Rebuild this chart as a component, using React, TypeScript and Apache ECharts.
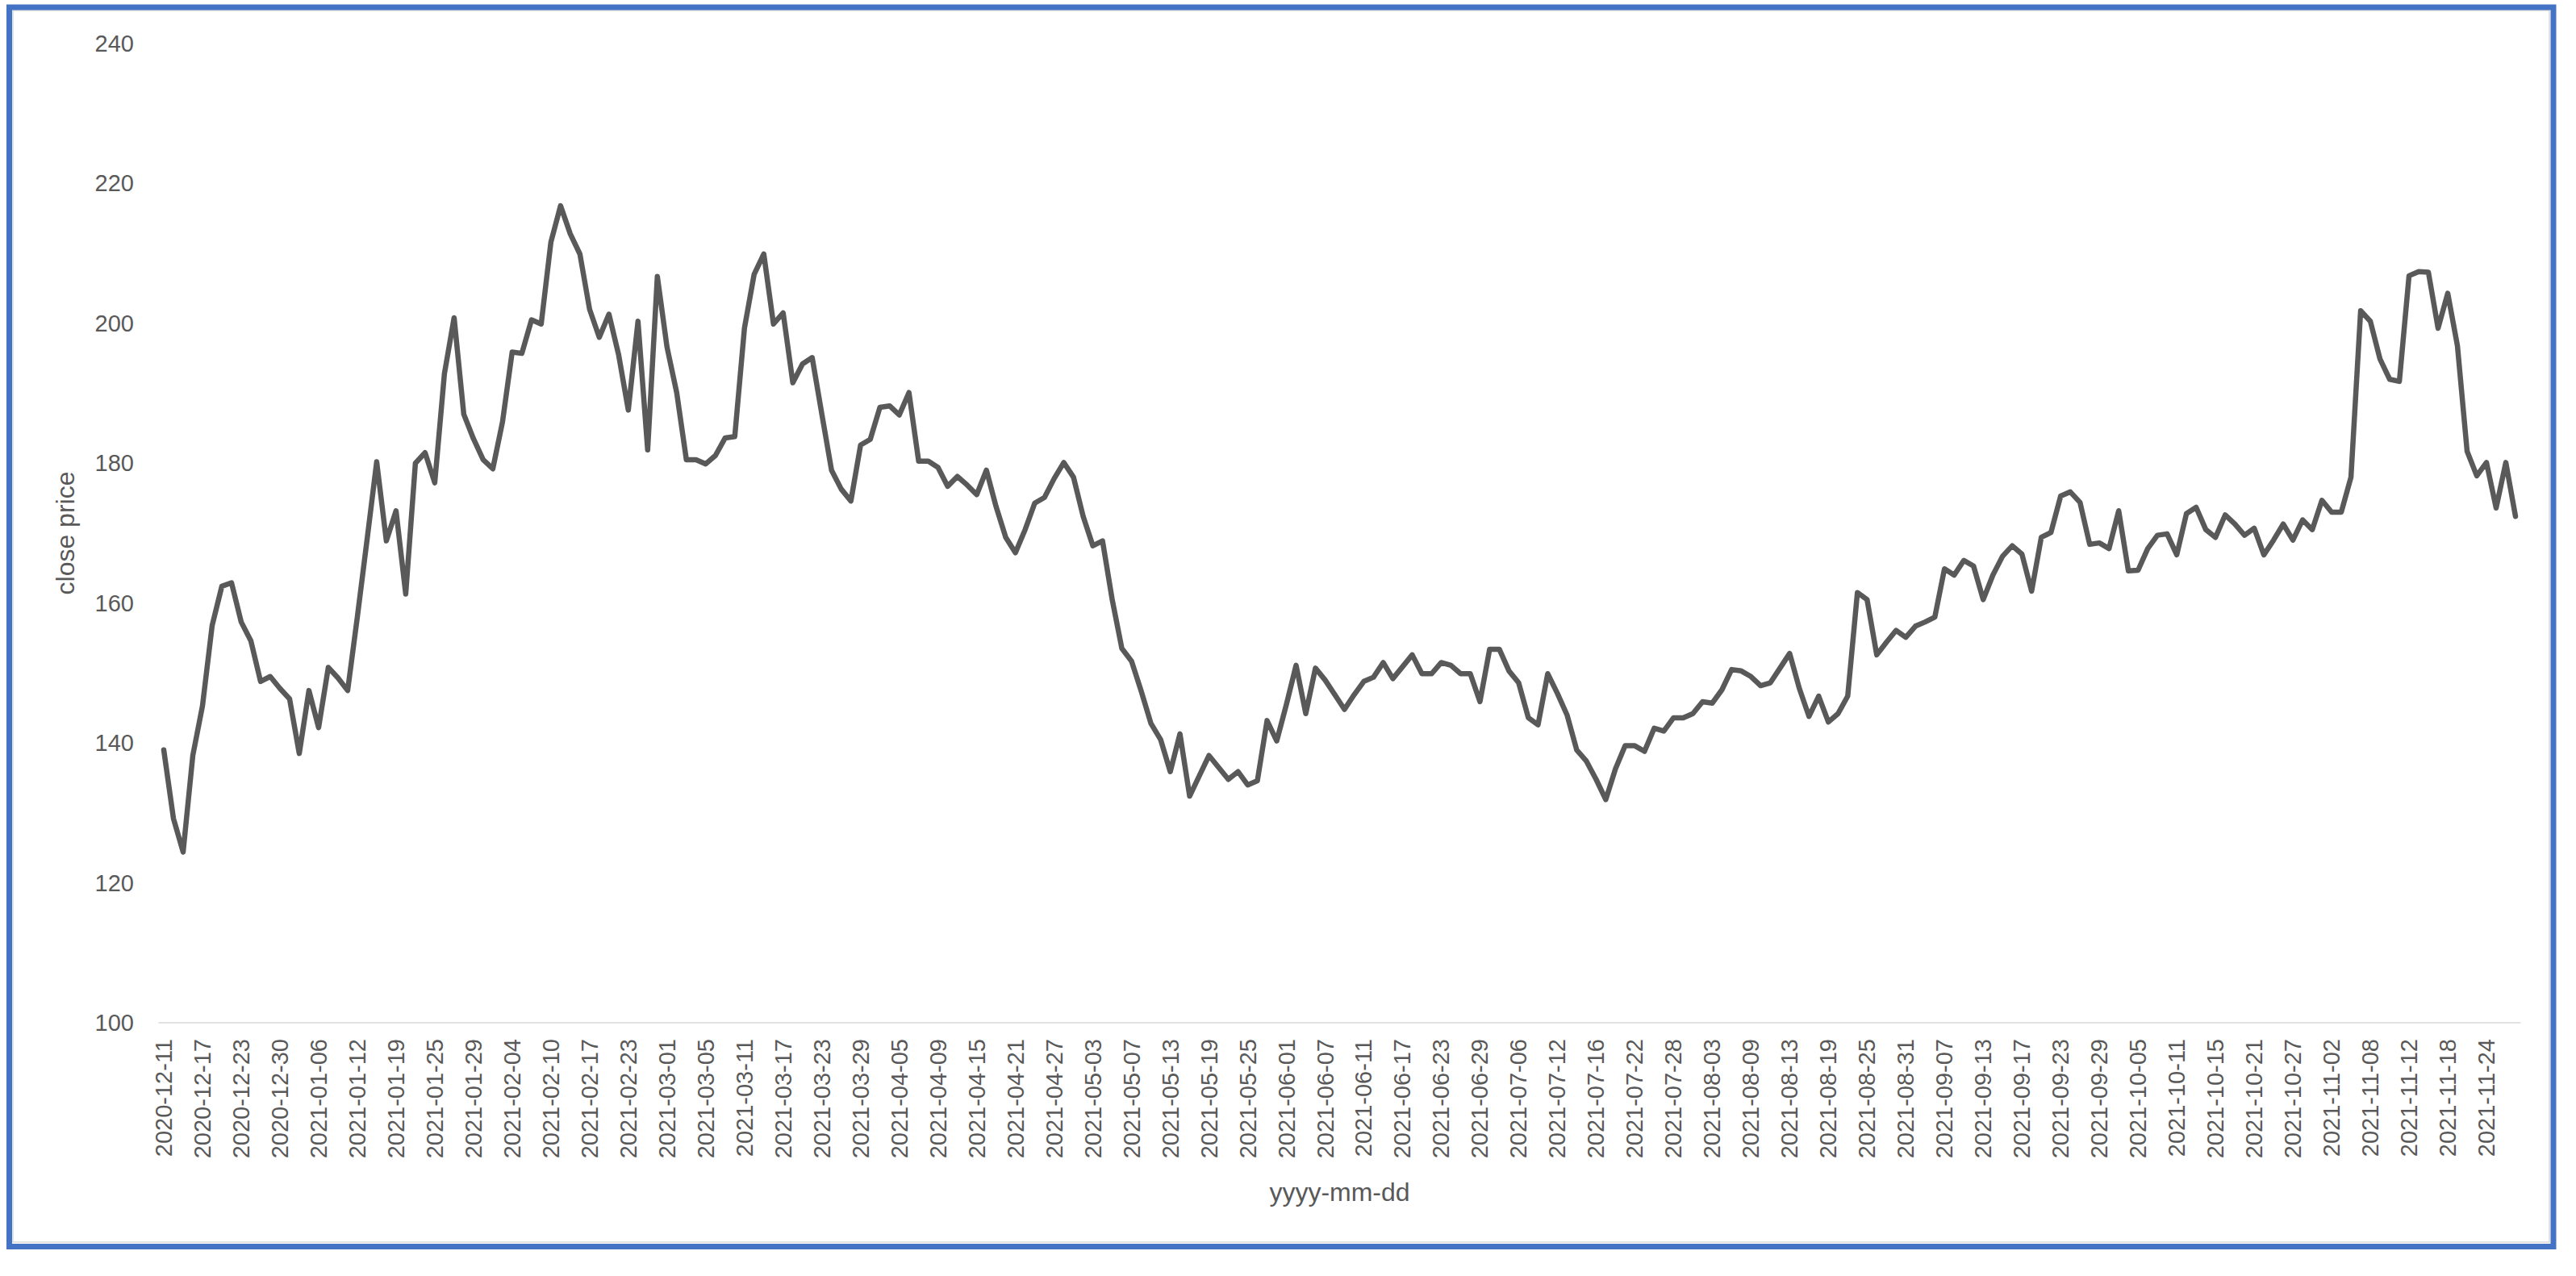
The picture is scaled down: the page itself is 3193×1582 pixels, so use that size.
import React, { useEffect, useRef } from "react";
import * as echarts from "echarts";

// ---- data ----
const START_DATE = "2020-12-11";
const END_DATE = "2021-11-30";
const MARKET_HOLIDAYS = [
  "2020-12-25", "2021-01-01", "2021-01-18", "2021-02-15", "2021-04-02",
  "2021-05-31", "2021-07-05", "2021-09-06", "2021-11-25",
];

const closePrices = [
  139.0, 129.2, 124.4, 138.2, 145.3, 156.8, 162.4, 162.9, 157.3, 154.6,
  148.8, 149.5, 147.8, 146.3, 138.5, 147.5, 142.2, 150.8, 149.3, 147.5,
  158.0, 169.0, 180.2, 168.9, 173.2, 161.3, 180.0, 181.5, 177.2, 192.8,
  200.8, 187.0, 183.5, 180.5, 179.2, 185.9, 195.9, 195.7, 200.5, 199.9,
  211.6, 216.8, 212.8, 209.9, 202.0, 198.0, 201.3, 195.5, 187.6, 200.3,
  181.9, 206.7, 196.6, 190.1, 180.5, 180.5, 179.9, 181.1, 183.6, 183.8,
  199.3, 207.0, 209.9, 199.9, 201.5, 191.5, 194.2, 195.1, 187.0, 179.0,
  176.3, 174.6, 182.6, 183.4, 188.0, 188.2, 186.9, 190.1, 180.3, 180.3,
  179.4, 176.7, 178.1, 176.9, 175.5, 179.0, 173.8, 169.4, 167.2, 170.5,
  174.3, 175.1, 177.8, 180.1, 178.0, 172.4, 168.2, 168.9, 160.5, 153.5,
  151.7, 147.4, 142.8, 140.5, 135.9, 141.3, 132.4, 135.3, 138.2, 136.5,
  134.8, 135.9, 134.0, 134.6, 143.2, 140.3, 145.5, 151.1, 144.2, 150.7,
  149.0, 146.9, 144.8, 146.9, 148.8, 149.4, 151.5, 149.2, 150.9, 152.6,
  149.9, 149.9, 151.5, 151.1, 149.9, 149.9, 145.9, 153.4, 153.4, 150.3,
  148.6, 143.6, 142.6, 149.9, 147.1, 144.0, 139.0, 137.4, 134.8, 131.9,
  136.3, 139.6, 139.6, 138.8, 142.1, 141.7, 143.6, 143.6, 144.2, 145.9,
  145.7, 147.6, 150.5, 150.3, 149.5, 148.2, 148.6, 150.7, 152.8, 147.8,
  143.8, 146.7, 143.0, 144.2, 146.7, 161.5, 160.5, 152.6, 154.4, 156.1,
  155.1, 156.7, 157.3, 158.0, 164.9, 164.0, 166.1, 165.3, 160.5, 164.0,
  166.7, 168.2, 167.0, 161.7, 169.4, 170.1, 175.3, 175.9, 174.4, 168.4,
  168.6, 167.8, 173.2, 164.6, 164.7, 167.8, 169.7, 169.9, 166.9, 172.8,
  173.7, 170.5, 169.4, 172.6, 171.3, 169.7, 170.7, 166.9, 169.0, 171.3,
  169.0, 171.9, 170.5, 174.7, 173.0, 173.0, 178.0, 201.8, 200.3, 194.9,
  192.0, 191.7, 206.8, 207.4, 207.3, 199.3, 204.3, 196.8, 181.7, 178.2,
  180.1, 173.6, 180.1, 172.4,
];

const Y_MIN = 100;
const Y_MAX = 240;
const Y_STEP = 20;
const X_TITLE = "yyyy-mm-dd";
const Y_TITLE = "close price";

function tradingDays(start: string, end: string, holidays: string[]): string[] {
  const out: string[] = [];
  const d = new Date(start + "T00:00:00Z");
  const e = new Date(end + "T00:00:00Z");
  while (d.getTime() <= e.getTime()) {
    const wd = d.getUTCDay();
    const s = d.toISOString().slice(0, 10);
    if (wd !== 0 && wd !== 6 && holidays.indexOf(s) < 0) out.push(s);
    d.setUTCDate(d.getUTCDate() + 1);
  }
  return out;
}

const dates = tradingDays(START_DATE, END_DATE, MARKET_HOLIDAYS);

const FONT = "'Liberation Sans', Arial, sans-serif";
const TEXT = "#595959";

export default function App() {
  const ref = useRef<HTMLDivElement>(null);
  useEffect(() => {
    if (!ref.current) return;
    const chart = echarts.init(ref.current, undefined, { renderer: "svg" });
    chart.setOption({
      animation: false,
      backgroundColor: "#ffffff",
      textStyle: { fontFamily: FONT },
      grid: { left: 197, right: 69, top: 54, bottom: 314, containLabel: false },
      xAxis: {
        type: "category",
        data: dates,
        boundaryGap: true,
        axisLine: { show: true, lineStyle: { color: "#D9D9D9", width: 1.5 } },
        axisTick: { show: false },
        splitLine: { show: false },
        axisLabel: {
          interval: 3,
          rotate: 90,
          margin: 20,
          fontSize: 29,
          color: TEXT,
          fontFamily: FONT,
        },
        name: X_TITLE,
        nameLocation: "middle",
        nameGap: 194,
        nameTextStyle: { fontSize: 32, color: TEXT, fontFamily: FONT },
      },
      yAxis: {
        type: "value",
        min: Y_MIN,
        max: Y_MAX,
        interval: Y_STEP,
        axisLine: { show: false },
        axisTick: { show: false },
        splitLine: { show: false },
        axisLabel: {
          margin: 31,
          fontSize: 29,
          color: TEXT,
          fontFamily: FONT,
          padding: [0, 0, 8, 0],
        },
        name: Y_TITLE,
        nameLocation: "middle",
        nameGap: 100,
        nameTextStyle: { fontSize: 32, color: TEXT, fontFamily: FONT },
      },
      series: [
        {
          type: "line",
          data: closePrices,
          symbol: "none",
          showSymbol: false,
          lineStyle: { color: "#595959", width: 6.5, join: "round", cap: "round" },
          itemStyle: { color: "#595959" },
        },
      ],
      graphic: [
        {
          type: "rect",
          silent: true,
          shape: { x: 16, y: 13, width: 3144, height: 1527 },
          style: { fill: "none", stroke: "#D9D9D9", lineWidth: 1.5 },
        },
        {
          type: "rect",
          silent: true,
          shape: { x: 11.5, y: 9, width: 3153.5, height: 1536.5 },
          style: { fill: "none", stroke: "#4472C4", lineWidth: 7 },
        },
      ],
    });
    return () => chart.dispose();
  }, []);
  return (
    <div
      ref={ref}
      style={{ position: "absolute", left: 0, top: 0, width: 3193, height: 1582 }}
    />
  );
}
